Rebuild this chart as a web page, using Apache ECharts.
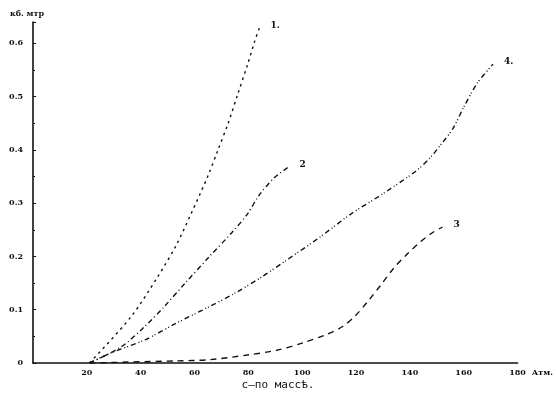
<!DOCTYPE html>
<html><head><meta charset="utf-8">
<script src="https://cdn.jsdelivr.net/npm/echarts@6/dist/echarts.min.js"></script>
<style>html,body{margin:0;padding:0;background:#fff}#c{width:556px;height:405px}</style>
</head><body><div id="c"></div>
<script>
// Values (x = Атм., y = кб. мтр)
var curve1 = [[21,0],[36.3,0.086],[46.1,0.16],[53.3,0.222],[58.7,0.28],[64.9,0.35],[68.5,0.397],[72.5,0.45],[76.1,0.505],[79.7,0.56],[82.3,0.603],[84.1,0.629]];
var curve2 = [[21,0],[32.7,0.03],[41.4,0.068],[48.6,0.105],[56.9,0.152],[65.2,0.198],[73.9,0.245],[79.7,0.28],[84,0.315],[89.5,0.347],[94.9,0.368]];
var curve4 = [[21,0],[29,0.019],[41.4,0.043],[53.3,0.075],[65.2,0.105],[75,0.131],[84.8,0.161],[94.2,0.193],[106.5,0.236],[118.5,0.281],[130.4,0.319],[142.7,0.362],[148,0.388],[152,0.413],[156,0.44],[160,0.48],[165,0.525],[170.9,0.561]];
var curve3 = [[21,0],[53.3,0.004],[65.2,0.006],[79.7,0.015],[90.6,0.024],[100.4,0.038],[108.7,0.053],[114.9,0.068],[119.6,0.088],[124.6,0.117],[129.3,0.147],[134,0.178],[139.1,0.205],[143.8,0.227],[148.5,0.245],[152.1,0.255]];
var curveNames = ['1.', '2', '4.', '3'];
var xTicks = [20, 40, 60, 80, 100, 120, 140, 160, 180];
var yTicks = [0, 0.1, 0.2, 0.3, 0.4, 0.5, 0.6];
var xUnit = 'Атм.';
var yUnit = 'кб. мтр';
var caption = 'с—по массѣ.';

var chart = echarts.init(document.getElementById('c'), null, {renderer: 'canvas'});
var lbl = {color: '#111', fontSize: 8, fontWeight: 'bold', fontFamily: 'DejaVu Serif'};
function mk(name, data, dash, w) {
  return {
    name: name, type: 'line', data: data, smooth: 0.3, symbol: 'none',
    lineStyle: {color: '#111', width: w || 1.4, type: dash},
    endLabel: {show: true, formatter: name, color: '#111', fontSize: 9, fontWeight: 'bold', fontFamily: 'DejaVu Serif', offset: [3, -2]},
    animation: false
  };
}
chart.setOption({
  animation: false,
  grid: {left: 33, right: 26, top: 22, bottom: 42},
  xAxis: {
    type: 'value', min: 0, max: 180, interval: 20,
    name: xUnit, nameLocation: 'end', nameGap: 4,
    nameTextStyle: {color: '#111', fontSize: 8, fontWeight: 'bold', fontFamily: 'DejaVu Serif', verticalAlign: 'top', padding: [6, 0, 0, 0]},
    axisLine: {show: true, lineStyle: {color: '#111', width: 1.6}},
    axisTick: {show: false},
    splitLine: {show: false},
    axisLabel: Object.assign({margin: 6, formatter: function (v) { return xTicks.indexOf(v) >= 0 ? String(v) : ''; }}, lbl)
  },
  yAxis: {
    type: 'value', min: 0, max: 0.64, interval: 0.1,
    name: yUnit, nameLocation: 'end', nameGap: 4,
    nameTextStyle: {color: '#111', fontSize: 8, fontWeight: 'bold', fontFamily: 'DejaVu Serif', padding: [0, 12, 0, 0]},
    axisLine: {show: true, lineStyle: {color: '#111', width: 1.6}},
    axisTick: {show: true, inside: true, length: 3, lineStyle: {color: '#111'}},
    minorTick: {show: true, splitNumber: 2, length: 2, lineStyle: {color: '#111'}},
    splitLine: {show: false},
    axisLabel: Object.assign({margin: 10, showMaxLabel: false, formatter: function (v) {
      var r = Math.round(v * 10) / 10; return yTicks.indexOf(r) >= 0 && Math.abs(r - v) < 1e-6 ? (r === 0 ? '0' : r.toFixed(1)) : '';
    }}, lbl)
  },
  graphic: [{type: 'text', left: 'center', top: 380, style: {text: caption, fill: '#111', font: '11px "DejaVu Sans Mono"', letterSpacing: 1}}],
  series: [
    mk(curveNames[0], curve1, [2.5, 4]),
    mk(curveNames[1], curve2, [5, 3, 1, 3]),
    mk(curveNames[2], curve4, [5, 3, 1, 2, 1, 3]),
    mk(curveNames[3], curve3, [6, 5])
  ]
});
</script></body></html>
